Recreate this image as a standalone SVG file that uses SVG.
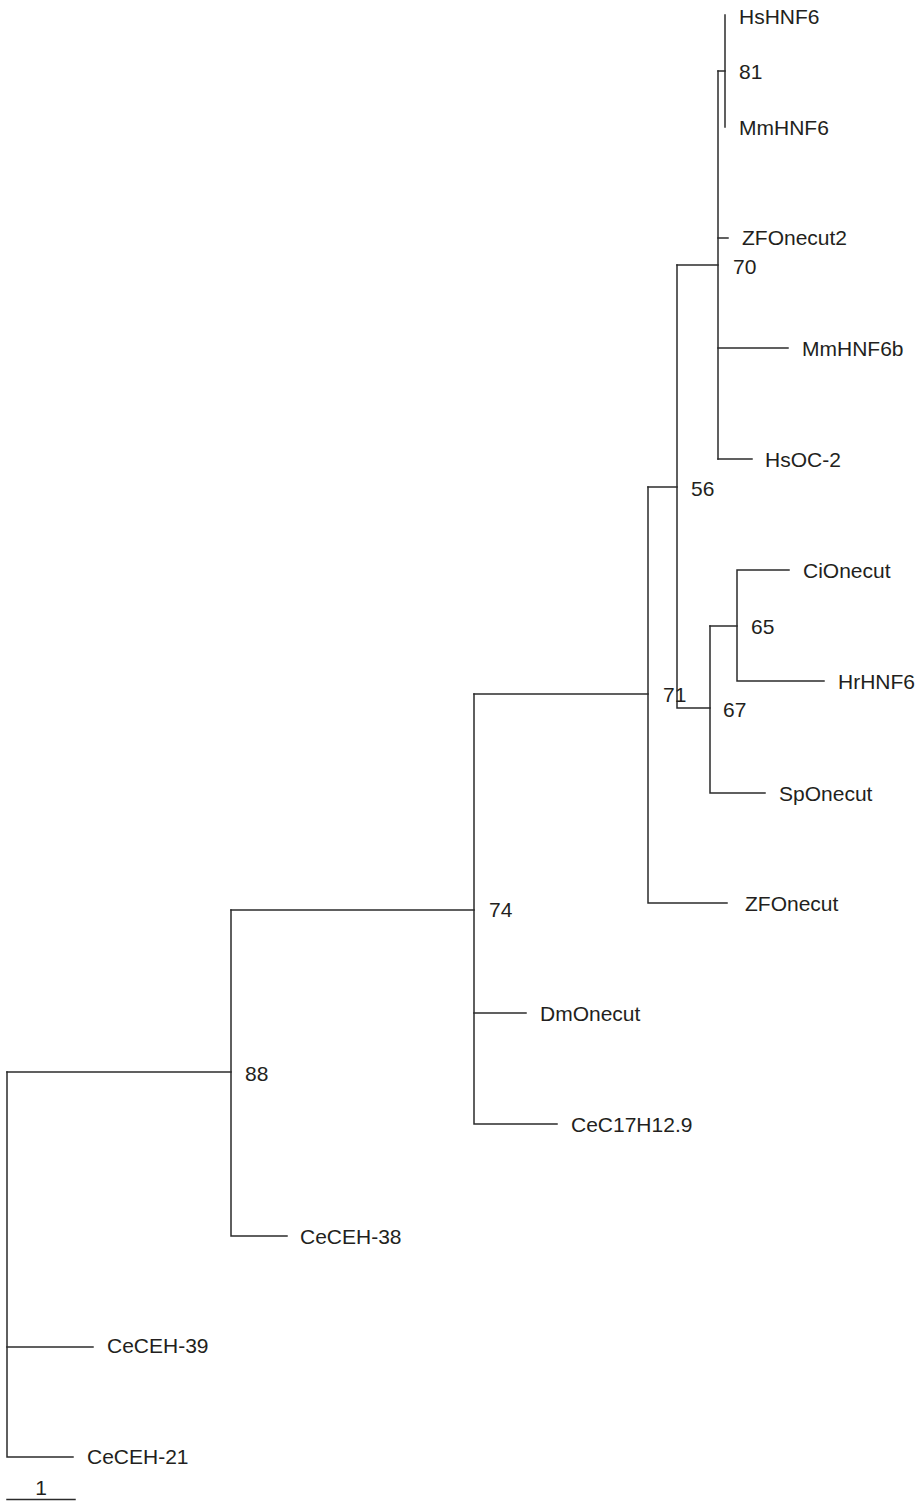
<svg xmlns="http://www.w3.org/2000/svg" width="917" height="1501" viewBox="0 0 917 1501">
<style>
.br{stroke:#2b2b2b;stroke-width:1.5;fill:none;stroke-linecap:square}
text{font-family:"Liberation Sans",Arial,Helvetica,sans-serif;font-size:21px;fill:#231f20}
</style>
<rect width="917" height="1501" fill="#fff"/>
<g id="connectors" class="br">
<path d="M725,15V127"/>
<path d="M718,71H725"/>
<path d="M718,71V459"/>
<path d="M718,238H728"/>
<path d="M718,348H788"/>
<path d="M718,459H752"/>
<path d="M677,265H718"/>
<path d="M677,265V708H710"/>
<path d="M710,626V793H765"/>
<path d="M710,626H737"/>
<path d="M789,570H737V681H824"/>
<path d="M648,487H677"/>
<path d="M648,487V903H727"/>
<path d="M474,694H648"/>
<path d="M474,694V1124H557"/>
<path d="M474,1013H526"/>
<path d="M231,910H474"/>
<path d="M231,910V1236H287"/>
<path d="M7,1072H231"/>
<path d="M7,1072V1457H73"/>
<path d="M7,1347H93"/>
</g>
<g id="leaf-HsHNF6"><text x="739" y="24">HsHNF6</text></g>
<g id="leaf-MmHNF6"><text x="739" y="135">MmHNF6</text></g>
<g id="leaf-ZFOnecut2"><text x="742" y="245">ZFOnecut2</text></g>
<g id="leaf-MmHNF6b"><text x="802" y="356">MmHNF6b</text></g>
<g id="leaf-HsOC-2"><text x="765" y="467">HsOC-2</text></g>
<g id="leaf-CiOnecut"><text x="803" y="578">CiOnecut</text></g>
<g id="leaf-HrHNF6"><text x="838" y="689">HrHNF6</text></g>
<g id="leaf-SpOnecut"><text x="779" y="801">SpOnecut</text></g>
<g id="leaf-ZFOnecut"><text x="745" y="911">ZFOnecut</text></g>
<g id="leaf-DmOnecut"><text x="540" y="1021">DmOnecut</text></g>
<g id="leaf-CeC17H12.9"><text x="571" y="1132">CeC17H12.9</text></g>
<g id="leaf-CeCEH-38"><text x="300" y="1244">CeCEH-38</text></g>
<g id="leaf-CeCEH-39"><text x="107" y="1353">CeCEH-39</text></g>
<g id="leaf-CeCEH-21"><text x="87" y="1464">CeCEH-21</text></g>
<g id="node-81"><text x="739" y="79">81</text></g>
<g id="node-70"><text x="733" y="274">70</text></g>
<g id="node-56"><text x="691" y="496">56</text></g>
<g id="node-65"><text x="751" y="634">65</text></g>
<g id="node-71"><text x="663" y="702">71</text></g>
<g id="node-67"><text x="723" y="717">67</text></g>
<g id="node-74"><text x="489" y="917">74</text></g>
<g id="node-88"><text x="245" y="1081">88</text></g>
<g id="scale-bar"><path class="br" d="M7,1499.5H75"/><text x="41" y="1495" text-anchor="middle">1</text></g>
</svg>
